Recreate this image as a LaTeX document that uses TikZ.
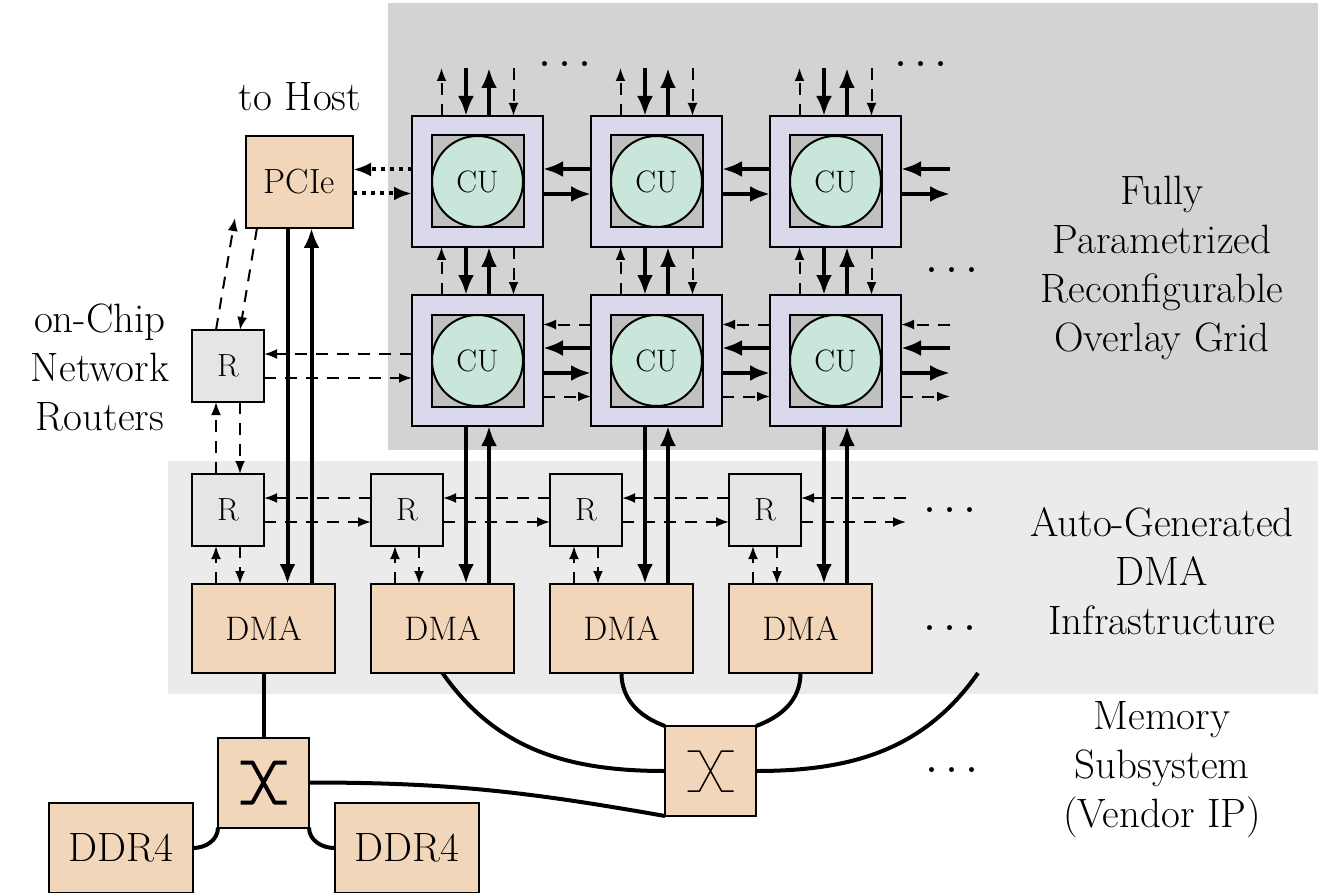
\documentclass[tikz,border=0pt]{standalone}
\usepackage{fontspec}
\usetikzlibrary{arrows.meta,calc}
\definecolor{bgdark}{HTML}{D3D3D3}
\definecolor{bglight}{HTML}{EBEBEB}
\definecolor{tilec}{HTML}{DAD9EB}
\definecolor{innerc}{HTML}{C0C0C0}
\definecolor{cuc}{HTML}{C8E6DA}
\definecolor{peach}{HTML}{F1D6B9}
\definecolor{rboxc}{HTML}{E5E5E5}
\newcommand{\spdots}{.\hspace{5.5pt}.\hspace{5.5pt}.}
\tikzset{
 box/.style={draw,line width=2pt,inner sep=0pt,outer sep=0pt},
 tile/.style={box,fill=tilec,minimum size=131pt},
 innersq/.style={box,fill=innerc,minimum size=92pt},
 cu/.style={draw,line width=2pt,fill=cuc,circle,minimum size=91pt,inner sep=0pt,outer sep=0pt,font=\fontsize{31}{36}\selectfont},
 rbox/.style={box,fill=rboxc,minimum size=72pt,font=\fontsize{32}{38}\selectfont},
 dmabox/.style={box,fill=peach,minimum width=143pt,minimum height=89pt,font=\fontsize{34}{40}\selectfont},
 pciebox/.style={box,fill=peach,minimum width=107pt,minimum height=92pt,font=\fontsize{35}{40}\selectfont},
 xbox/.style={box,fill=peach,minimum width=91pt,minimum height=90pt},
 ddrbox/.style={box,fill=peach,minimum width=144pt,minimum height=90pt,font=\fontsize{41}{49}\selectfont},
 thkA/.style={line width=4pt,-{Latex[length=20pt,width=16pt]}},
 dshA/.style={line width=2pt,dash pattern=on 12pt off 9pt,-{Latex[length=13pt,width=10pt]}},
 dotA/.style={line width=4pt,dash pattern=on 4pt off 5pt,-{Latex[length=18pt,width=14pt]}},
 mem/.style={line width=4pt},
 lbl/.style={font=\fontsize{41}{49}\selectfont,align=center,inner sep=0pt},
 dotsl/.style={font=\fontsize{60}{60}\selectfont,inner sep=0pt},
}
\begin{document}
\begin{tikzpicture}[x=1pt,y=-1pt]
\useasboundingbox (0,0) rectangle (1327,893);
% backgrounds
\fill[bgdark] (388,3) rectangle (1318,450);
\fill[bglight] (168,461) rectangle (1318,694);

% CU tiles
\foreach \i in {1,2,3} {
  \foreach \j in {1,2} {
    \node[tile] (t\i\j) at ({477.5+179*(\i-1)},{181.5+179*(\j-1)}) {};
    \node[innersq] (q\i\j) at (t\i\j) {};
    \node[cu] (c\i\j) at (t\i\j) {CU};
  }
}

% PCIe, routers, DMA
\node[pciebox] (p) at (299.5,182) {PCIe};
\node[rbox] (r0) at (228,366) {R};
\foreach \k in {1,2,3,4} {
  \node[rbox] (r\k) at ({228+179*(\k-1)},510) {R};
  \node[dmabox] (d\k) at ({263.5+179*(\k-1)},628.5) {DMA};
}

% memory subsystem
\node[xbox] (x1) at (263.5,782.5) {};
\node[xbox] (x2) at (710.5,771) {};
\node[ddrbox] (dl) at (121,848) {DDR4};
\node[ddrbox] (dr) at (406.5,848) {DDR4};
\coordinate (memend) at (978,673);

% X glyphs
\draw[line width=4pt,line join=round,shift={(x1.center)}]
  (-23,-20) -- (-11,-20) -- (11,20) -- (23,20)
  (23,-20) -- (11,-20) -- (-11,20) -- (-23,20);
\draw[line width=1.5pt,line join=round,shift={(x2.center)}]
  (-23,-20) -- (-11,-20) -- (11,20) -- (23,20)
  (23,-20) -- (11,-20) -- (-11,20) -- (-23,20);

% vertical arrows on top of row 1
\foreach \i in {1,2,3} {
  \draw[dshA] ([xshift=-36pt]t\i1.north) -- ([xshift=-36pt,yshift=48pt]t\i1.north);
  \draw[thkA] ([xshift=-11.5pt,yshift=48pt]t\i1.north) -- ([xshift=-11.5pt]t\i1.north);
  \draw[thkA] ([xshift=11.5pt]t\i1.north) -- ([xshift=11.5pt,yshift=48pt]t\i1.north);
  \draw[dshA] ([xshift=36pt,yshift=48pt]t\i1.north) -- ([xshift=36pt]t\i1.north);
  % between rows
  \draw[dshA] ([xshift=-36pt]t\i2.north) -- ([xshift=-36pt]t\i1.south);
  \draw[thkA] ([xshift=-11.5pt]t\i1.south) -- ([xshift=-11.5pt]t\i2.north);
  \draw[thkA] ([xshift=11.5pt]t\i2.north) -- ([xshift=11.5pt]t\i1.south);
  \draw[dshA] ([xshift=36pt]t\i1.south) -- ([xshift=36pt]t\i2.north);
}
% row 2 to DMA
\foreach \i/\k in {1/2,2/3,3/4} {
  \draw[thkA] ([xshift=-11.5pt]t\i2.south) -- ([xshift=-11.5pt]t\i2.south |- d\k.north);
  \draw[thkA] ([xshift=11.5pt]t\i2.south |- d\k.north) -- ([xshift=11.5pt]t\i2.south);
}
% horizontal between tiles
\foreach \i/\n in {1/2,2/3} {
  \foreach \j in {1,2} {
    \draw[thkA] ([yshift=12.5pt]t\n\j.west) -- ([yshift=12.5pt]t\i\j.east);
    \draw[thkA] ([yshift=-12.5pt]t\i\j.east) -- ([yshift=-12.5pt]t\n\j.west);
  }
  \draw[dshA] ([yshift=36pt]t\n2.west) -- ([yshift=36pt]t\i2.east);
  \draw[dshA] ([yshift=-36pt]t\i2.east) -- ([yshift=-36pt]t\n2.west);
}
% right side free ends
\foreach \j in {1,2} {
  \draw[thkA] ([xshift=49pt,yshift=12.5pt]t3\j.east) -- ([yshift=12.5pt]t3\j.east);
  \draw[thkA] ([yshift=-12.5pt]t3\j.east) -- ([xshift=49pt,yshift=-12.5pt]t3\j.east);
}
\draw[dshA] ([xshift=49pt,yshift=36pt]t32.east) -- ([yshift=36pt]t32.east);
\draw[dshA] ([yshift=-36pt]t32.east) -- ([xshift=49pt,yshift=-36pt]t32.east);

% PCIe links
\draw[dotA] ([yshift=12pt]t11.west) -- ([yshift=12pt]t11.west -| p.east);
\draw[dotA] ([yshift=-12pt]t11.west -| p.east) -- ([yshift=-12pt]t11.west);
\draw[thkA] ([xshift=-12pt]p.south) -- ([xshift=-12pt]p.south |- d1.north);
\draw[thkA] ([xshift=12pt]p.south |- d1.north) -- ([xshift=12pt]p.south);
\draw[dshA] ([xshift=-12pt]r0.north) -- ([xshift=-11pt,yshift=10pt]p.south west);
\draw[dshA] ([xshift=11pt]p.south west) -- ([xshift=12pt]r0.north);

% router R0 links
\draw[dshA] ([yshift=12pt]r0.east -| t12.west) -- ([yshift=12pt]r0.east);
\draw[dshA] ([yshift=-12pt]r0.east) -- ([yshift=-12pt]r0.east -| t12.west);
\draw[dshA] ([xshift=-12pt]r1.north) -- ([xshift=-12pt]r0.south);
\draw[dshA] ([xshift=12pt]r0.south) -- ([xshift=12pt]r1.north);

% router row
\foreach \k/\n in {1/2,2/3,3/4} {
  \draw[dshA] ([yshift=12pt]r\n.west) -- ([yshift=12pt]r\k.east);
  \draw[dshA] ([yshift=-12pt]r\k.east) -- ([yshift=-12pt]r\n.west);
}
\draw[dshA] ([xshift=105pt,yshift=12pt]r4.east) -- ([yshift=12pt]r4.east);
\draw[dshA] ([yshift=-12pt]r4.east) -- ([xshift=105pt,yshift=-12pt]r4.east);
\foreach \k in {1,2,3,4} {
  \draw[dshA] ([xshift=-12pt]r\k.south |- d\k.north) -- ([xshift=-12pt]r\k.south);
  \draw[dshA] ([xshift=12pt]r\k.south) -- ([xshift=12pt]r\k.south |- d\k.north);
}

% memory connections
\draw[mem] (d1.south) -- (x1.north);
\draw[mem] (x1.south west) to[out=-90,in=0] (dl.east);
\draw[mem] (x1.south east) to[out=-90,in=180] (dr.west);
\draw[mem] (x1.east) to[out=0,in=170] (x2.south west);
\draw[mem] (d2.south) to[out=-55,in=180] (x2.west);
\draw[mem] (d3.south) to[out=-90,in=160] (x2.north west);
\draw[mem] (d4.south) to[out=-90,in=20] (x2.north east);
\draw[mem] (x2.east) to[out=0,in=-125] (memend);

% labels
\node[lbl] (host) at (300,97) {to Host};
\node[lbl] (routers) at (100,367) {on-Chip\\Network\\Routers};
\node[lbl] (gridlbl) at (1162,268) {Fully\\Parametrized\\Reconfigurable\\Overlay Grid};
\node[lbl] (dmalbl) at (1162,571) {Auto-Generated\\DMA\\Infrastructure};
\node[lbl] (memlbl) at (1162,770) {Memory\\Subsystem\\(Vendor IP)};

% dots
\node[dotsl] (dt1) at (565,64) {\spdots};
\node[dotsl] (dt2) at (921,64) {\spdots};
\node[dotsl] (dt3) at (952,270) {\spdots};
\node[dotsl] (dt4) at (950,510) {\spdots};
\node[dotsl] (dt5) at (950,628) {\spdots};
\node[dotsl] (dt6) at (952,770) {\spdots};
\end{tikzpicture}
\end{document}
